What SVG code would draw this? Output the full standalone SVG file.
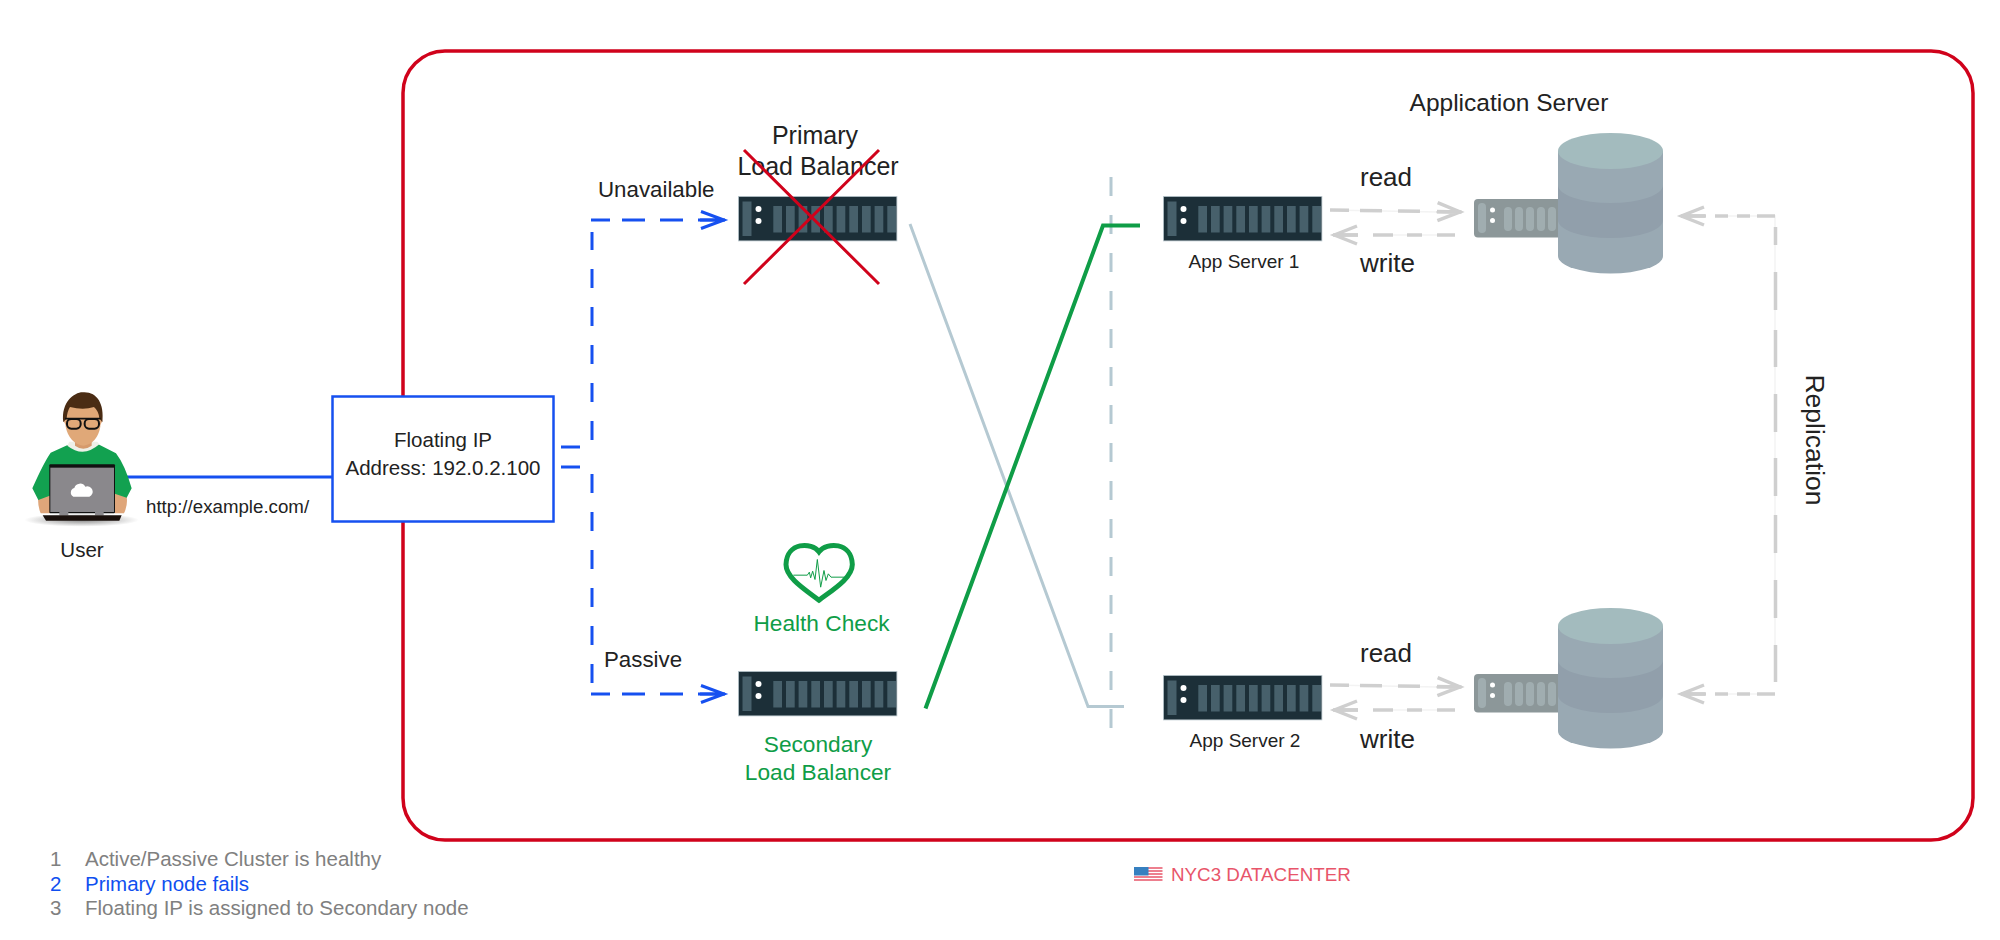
<svg xmlns="http://www.w3.org/2000/svg" width="2000" height="940" viewBox="0 0 2000 940">
<style>
text{font-family:"Liberation Sans",Arial,sans-serif;fill:#222}
.m{text-anchor:middle}
.g{fill:#0f9d47}
.lg{fill:#808080;font-size:20.500px}
.lb{fill:#0f4ff0;font-size:20.500px}
.blue{fill:none;stroke:#1650f0;stroke-width:3}
.grey{fill:none;stroke:#cfcfcf;stroke-width:3.5}
.faint{fill:none;stroke:#f3f3f3;stroke-width:1.5}
.steel{fill:none;stroke:#b5c9d2;stroke-width:3}
.bar{fill:#47606b}
.pill{fill:#a0adb0}
</style>
<defs>
<marker id="ab" markerUnits="userSpaceOnUse" markerWidth="30" markerHeight="24" refX="25" refY="10" orient="auto"><path d="M1 1.500L24 10L1 18.500M0 10H24" fill="none" stroke="#1650f0" stroke-width="3"/></marker>
<marker id="ag" markerUnits="userSpaceOnUse" markerWidth="34" markerHeight="26" refX="25" refY="11" orient="auto"><path d="M1 2L23.500 11L1 20M0 11H23" fill="none" stroke="#cfcfcf" stroke-width="3.500"/></marker>
<g id="server">
<rect x=".4" y=".4" width="158.500" height="44.500" fill="#1c2f38" stroke="#b8c6cc" stroke-width=".8"/>
<rect class="bar" x="4.500" y="5.500" width="9" height="34.500"/>
<circle cx="20.500" cy="13" r="3" fill="#fff"/><circle cx="20.500" cy="25" r="3" fill="#fff"/>
<rect class="bar" x="35.300" y="10" width="8.700" height="26.500"/><rect class="bar" x="48" y="10" width="8.700" height="26.500"/><rect class="bar" x="60.600" y="10" width="8.700" height="26.500"/><rect class="bar" x="73.300" y="10" width="8.700" height="26.500"/><rect class="bar" x="86" y="10" width="8.700" height="26.500"/><rect class="bar" x="98.600" y="10" width="8.700" height="26.500"/><rect class="bar" x="111.300" y="10" width="8.700" height="26.500"/><rect class="bar" x="124" y="10" width="8.700" height="26.500"/><rect class="bar" x="136.600" y="10" width="8.700" height="26.500"/><rect class="bar" x="149.300" y="10" width="8.700" height="26.500"/>
</g>
<g id="db">
<rect x="1474" y="199" width="90" height="38.500" rx="4" fill="#8c9799"/>
<rect class="pill" x="1478" y="203" width="8" height="30" rx="4"/>
<circle cx="1492.500" cy="210" r="2.500" fill="#fff"/><circle cx="1492.500" cy="220.500" r="2.500" fill="#fff"/>
<rect class="pill" x="1504" y="207" width="8" height="24" rx="4"/><rect class="pill" x="1515" y="207" width="8" height="24" rx="4"/><rect class="pill" x="1526" y="207" width="8" height="24" rx="4"/><rect class="pill" x="1537" y="207" width="8" height="24" rx="4"/><rect class="pill" x="1548" y="207" width="8" height="24" rx="4"/>
<path d="M1558 151V256A52.500 17.500 0 0 0 1663 256V151Z" fill="#99a9b3"/>
<path d="M1558 185A52.500 18 0 0 0 1663 185V220A52.500 18 0 0 1 1558 220Z" fill="#919fab"/>
<ellipse cx="1610.500" cy="151" rx="52.500" ry="18" fill="#a3bbbe"/>
</g>
<radialGradient id="sh"><stop offset="0" stop-color="#8a8a8a"/><stop offset="1" stop-color="#fff"/></radialGradient>
</defs>

<g id="datacenter"><rect x="403" y="51" width="1570" height="789" rx="42" fill="none" stroke="#d0021b" stroke-width="3.500"/></g>

<g id="connectors">
<path class="blue" d="M127 477H332"/>
<path class="blue" stroke-dasharray="19 19" d="M561 447H592V232"/>
<path class="blue" stroke-dasharray="19 12 23 15 23 15 27" marker-end="url(#ab)" d="M591 220H725"/>
<path class="blue" stroke-dasharray="19 19" d="M561 467H592V683"/>
<path class="blue" stroke-dasharray="19 12 23 15 23 15 27" marker-end="url(#ab)" d="M591 694H725"/>
<path class="steel" d="M910 224L1088 706.500H1124"/>
<path class="steel" stroke-dasharray="19 19" d="M1111 177V728"/>
<path d="M925.500 708.500L1103 225.500H1140" fill="none" stroke="#0f9d47" stroke-width="4"/>
<path class="faint" d="M1330 210L1437 212M1373 235H1455M1330 685L1437 687M1373 710H1455M1715 216H1775V682M1715 694H1775"/>
<path class="grey" stroke-dasharray="19 11 22 16 22 17 25" marker-end="url(#ag)" d="M1330 210L1461.500 212"/>
<path class="grey" stroke-dasharray="18 15 15 14 20 15 25" marker-end="url(#ag)" d="M1455 235H1333"/>
<path class="grey" stroke-dasharray="19 11 22 16 22 17 25" marker-end="url(#ag)" d="M1330 685L1461.500 687"/>
<path class="grey" stroke-dasharray="18 15 15 14 20 15 25" marker-end="url(#ag)" d="M1455 710H1333"/>
<path class="grey" stroke-dasharray="18 7 13 9 13 9 25" marker-end="url(#ag)" d="M1775 216H1680"/>
<path class="grey" stroke-dasharray="18 7 13 9 13 9 25" marker-end="url(#ag)" d="M1775 694H1680"/>
<path class="grey" stroke-dasharray="18 27 38 20 37 27 38 26 38 19 38 27 38 27 37 30" d="M1775.500 227V682"/>
</g>

<g id="user">
<g transform="translate(20 385) scale(.3333)">
<ellipse cx="185" cy="405" rx="172" ry="20" fill="url(#sh)"/>
<path d="M55 335L90 325V385H62Q52 360 55 335ZM320 335L285 325V385H312Q324 360 320 335Z" fill="#dfa67a"/>
<path d="M148 178L92 203Q70 235 37 310L55 345L95 330V300H280V325L320 338L335 310Q315 240 288 205L232 176Z" fill="#12a150"/>
<path d="M142 182Q190 220 238 178L232 170H148Z" fill="#eef0e8"/>
<path d="M132 110C128 105 136 95 140 100L140 125ZM246 110C250 105 242 95 238 100L238 125Z" fill="#dfa67a"/>
<path d="M165 150V182Q190 200 215 182V150Z" fill="#d69a6c"/>
<path d="M137 60H241V125Q232 175 190 182Q148 175 137 125Z" fill="#e0a878"/>
<path d="M130 112C122 50 165 20 190 22C230 20 254 55 247 112L238 100Q236 78 222 66Q190 76 150 66Q142 78 140 100Z" fill="#4a2c14"/>
<path d="M135 101H242" stroke="#111" stroke-width="5" fill="none"/>
<rect x="141" y="102" width="41" height="29" rx="13" fill="none" stroke="#111" stroke-width="6"/><rect x="194" y="102" width="43" height="29" rx="13" fill="none" stroke="#111" stroke-width="6"/>
<rect x="88" y="238" width="197" height="147" rx="3" fill="#111"/>
<rect x="91" y="248" width="191" height="133" fill="#8a888c"/>
<path d="M160 335A14 14 0 0 1 163 309A18 18 0 0 1 196 305A15 15 0 0 1 208 335Z" fill="#fff"/>
<rect x="118" y="380" width="27" height="11" fill="#8a888c"/><rect x="225" y="380" width="26" height="11" fill="#8a888c"/>
<path d="M68 391H305L298 407H78Z" fill="#1a100c"/>
</g>
<text class="m" x="82" y="557" font-size="20.500">User</text>
</g>

<g id="url-label"><text x="146" y="513" font-size="18.700">http://example.com/</text></g>

<g id="floating-ip">
<rect x="332.500" y="396.500" width="221" height="125" fill="#fff" stroke="#1650f0" stroke-width="2.500"/>
<text class="m" x="443" y="447" font-size="20.500">Floating IP</text>
<text class="m" x="443" y="475" font-size="20.500">Address: 192.0.2.100</text>
</g>

<g id="primary-lb">
<use href="#server" x="738" y="196"/>
<text class="m" x="815" y="144" font-size="25">Primary</text>
<text class="m" x="818" y="175" font-size="25">Load Balancer</text>
<path d="M744 150L879 284M879 150L744 284" stroke="#d0021b" stroke-width="3" fill="none"/>
</g>
<g id="label-unavailable"><text x="598" y="197" font-size="22.300">Unavailable</text></g>
<g id="label-passive"><text x="604" y="667" font-size="22.300">Passive</text></g>

<g id="health-check">
<g transform="translate(775 534.500) scale(.3333)">
<path d="M132 52C110 22 35 22 33 90C33 130 90 165 132 197C175 165 232 130 232 90C230 22 155 22 132 52Z" fill="none" stroke="#0f9d47" stroke-width="15"/>
<path d="M55 122H97L103 113L107 130L113 110L120 135L127 75L137 158L147 108L153 138L160 118L168 128H208" fill="none" stroke="#0f9d47" stroke-width="3"/>
</g>
<text class="m g" x="821.500" y="631" font-size="22.700">Health Check</text>
</g>

<g id="secondary-lb">
<use href="#server" x="738" y="671"/>
<text class="m g" x="818" y="752" font-size="22.700">Secondary</text>
<text class="m g" x="818" y="780" font-size="22.700">Load Balancer</text>
</g>

<g id="app-server-1">
<use href="#server" x="1163" y="196"/>
<text class="m" x="1244" y="268" font-size="19">App Server 1</text>
</g>
<g id="app-server-2">
<use href="#server" x="1163" y="675"/>
<text class="m" x="1245" y="747" font-size="19">App Server 2</text>
</g>

<g id="db-1"><use href="#db"/></g>
<g id="db-2"><use href="#db" y="475"/></g>

<g id="edge-labels">
<text class="m" x="1509" y="111" font-size="24.500">Application Server</text>
<text x="1360" y="186" font-size="26">read</text>
<text x="1360" y="272" font-size="26">write</text>
<text x="1360" y="662" font-size="26">read</text>
<text x="1360" y="748" font-size="26">write</text>
<text class="m" font-size="26.500" transform="translate(1805.500 440) rotate(90)">Replication</text>
</g>

<g id="region">
<rect x="1134" y="867" width="28.500" height="14" fill="#fff"/>
<path d="M1134 868H1162.500M1134 871H1162.500M1134 874H1162.500M1134 877H1162.500M1134 880H1162.500" stroke="#e8556a" stroke-width="1.500"/>
<rect x="1134" y="867" width="14.500" height="8.500" fill="#3680c0"/>
<text x="1171" y="881" font-size="18.800" style="fill:#e8556a">NYC3 DATACENTER</text>
</g>

<g id="legend">
<text class="lg" x="50" y="866">1</text><text class="lg" x="85" y="866">Active/Passive Cluster is healthy</text>
<text class="lb" x="50" y="891">2</text><text class="lb" x="85" y="891">Primary node fails</text>
<text class="lg" x="50" y="915">3</text><text class="lg" x="85" y="915">Floating IP is assigned to Secondary node</text>
</g>
</svg>
